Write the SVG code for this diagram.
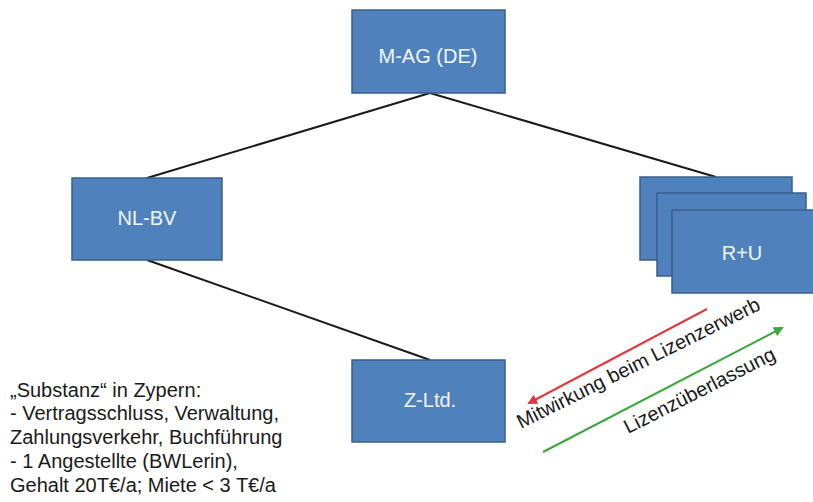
<svg xmlns="http://www.w3.org/2000/svg" width="813" height="502" viewBox="0 0 813 502">
<style>
.box{fill:#4F81BD;stroke:#3A5F8B;stroke-width:1.5}
.lbl{font-family:"Liberation Sans",Arial,sans-serif;font-size:20px;fill:#F2F6FB;text-anchor:middle}
.conn{stroke:#1a1a1a;stroke-width:2;fill:none}
.txt{font-family:"Liberation Sans",Arial,sans-serif;font-size:20px;fill:#1a1a1a}
</style>
<defs>
<marker id="ahRed" viewBox="0 0 10 10" refX="8" refY="5" markerWidth="5" markerHeight="5" orient="auto" markerUnits="strokeWidth"><path d="M0,0 L10,5 L0,10 z" fill="#E0383C"/></marker>
<marker id="ahGreen" viewBox="0 0 10 10" refX="8" refY="5" markerWidth="5" markerHeight="5" orient="auto" markerUnits="strokeWidth"><path d="M0,0 L10,5 L0,10 z" fill="#3AA83A"/></marker>
</defs>
<g id="connectors">
<line class="conn" x1="430" y1="93" x2="147" y2="178"/>
<line class="conn" x1="430" y1="93" x2="716" y2="177"/>
<line class="conn" x1="147" y1="260" x2="430" y2="360"/>
<line x1="707" y1="309" x2="529" y2="403" stroke="#E0383C" stroke-width="2" marker-end="url(#ahRed)"/>
<line x1="543" y1="452" x2="782" y2="328" stroke="#3AA83A" stroke-width="2" marker-end="url(#ahGreen)"/>
</g>
<g id="m-ag">
<rect class="box" x="352" y="10" width="153" height="83"/>
<text class="lbl" x="428" y="63">M-AG (DE)</text>
</g>
<g id="nl-bv">
<rect class="box" x="72" y="178" width="150" height="82"/>
<text class="lbl" x="147" y="225">NL-BV</text>
</g>
<g id="z-ltd">
<rect class="box" x="352" y="360" width="153" height="82"/>
<text class="lbl" x="430" y="407">Z-Ltd.</text>
</g>
<g id="r-u">
<rect class="box" x="640" y="177" width="152" height="83"/>
<rect class="box" x="657" y="193" width="149" height="83"/>
<rect class="box" x="672" y="210" width="145" height="83"/>
<text class="lbl" x="742" y="260">R+U</text>
</g>
<g id="labels">
<text class="txt" transform="translate(521,429) rotate(-26.5)">Mitwirkung beim Lizenzerwerb</text>
<text class="txt" transform="translate(628,434) rotate(-26.8)">Lizenzüberlassung</text>
</g>
<g id="note">
<text class="txt" x="10" y="397">„Substanz“ in Zypern:</text>
<text class="txt" x="10" y="420">- Vertragsschluss, Verwaltung,</text>
<text class="txt" x="10" y="444">Zahlungsverkehr, Buchführung</text>
<text class="txt" x="10" y="468">- 1 Angestellte (BWLerin),</text>
<text class="txt" x="10" y="492">Gehalt 20T€/a; Miete &lt; 3 T€/a</text>
</g>
</svg>
